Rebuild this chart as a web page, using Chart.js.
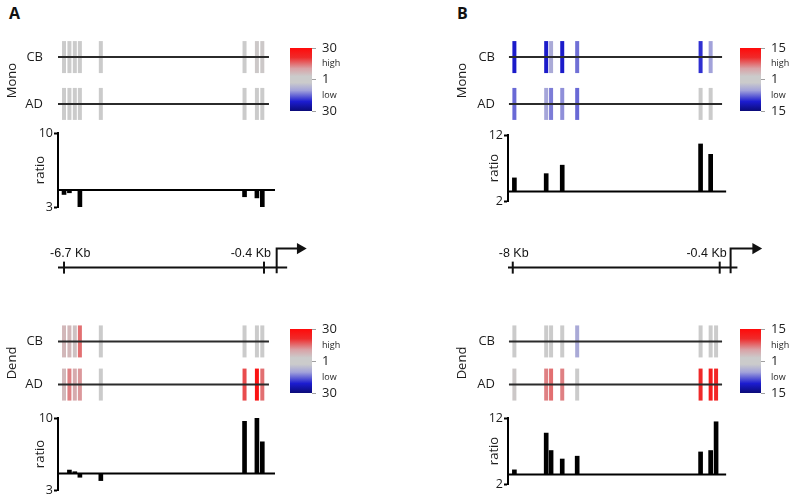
<!DOCTYPE html>
<html>
<head>
<meta charset="utf-8">
<script src="https://cdn.jsdelivr.net/npm/chart.js@4.4.0/dist/chart.umd.min.js"></script>
<style>
  body { margin: 0; background: #fff; }
  #fig { position: relative; width: 800px; height: 503px; overflow: hidden; }
  #fig canvas { position: absolute; }
  .panel { position: absolute; font: bold 16px/16px "Open Sans", sans-serif; color: #111; }
</style>
</head>
<body>
<div id="fig">
  <div class="panel" style="left:9px;top:5px">A</div>
  <div class="panel" style="left:457px;top:5px">B</div>
</div>
<script>
// exon positions, kb relative to the TSS
const exonsA = [-6.70, -6.53, -6.36, -6.20, -5.54, -1.01, -0.62, -0.45];
const exonsB = [-7.94, -6.77, -6.59, -6.18, -5.63, -1.09, -0.72, -0.52];
const geneSpanA = [-6.89, -0.24];
const geneSpanB = [-8.14, -0.30];

// heat values per exon, -1 (30x / 15x low) .. 0 (1) .. 1 (high); null = no data
const heatMonoCB_A = [0, 0, 0, 0, 0, 0, 0.12, 0.12];
const heatMonoAD_A = [0, 0, 0, 0, 0, 0, 0, 0];
const heatDendCB_A = [0.22, 0.22, 0.16, 0.5, 0, 0, 0, 0];
const heatDendAD_A = [0.22, 0.45, 0.3, 0.38, 0, 0.6, 0.92, 0.5];
const heatMonoCB_B = [-0.72, -0.72, -0.3, -0.72, -0.48, -0.65, -0.35, null];
const heatMonoAD_B = [-0.5, -0.33, -0.45, -0.4, -0.5, 0, 0, null];
const heatDendCB_B = [0, 0, 0, 0, -0.3, 0, 0, 0];
const heatDendAD_B = [0.12, 0.45, 0.5, 0.45, 0, 0.7, 0.82, 0.75];

// ratio per exon
const ratioMonoA = [-0.8, -0.5, 0, -3, 0, -1.2, -1.4, -3];
const ratioDendA = [0, 0.6, 0.3, -0.7, -1.3, 9.4, 10, 5.7];
const ratioMonoB = [2.9, 3.8, 0, 5.6, 0, 10.1, 7.9, null];
const ratioDendB = [1.0, 8.8, 5.1, 3.3, 3.9, 4.8, 5.1, 11.2];

const ratioRangeA = [-3, 10];
const ratioRangeB = [-2, 12];
const ratioTicksA = [10, -3];
const ratioTicksB = [12, -2];
const ratioTickLabelsA = ['10', '3'];
const ratioTickLabelsB = ['12', '2'];

const rowValues = [2, 1];
const rowLabels = ['CB', 'AD'];

const colorbarTickVals = [1, 0.5, 0, -0.5, -1];
const colorbarLabelsA = ['30', 'high', '1', 'low', '30'];
const colorbarLabelsB = ['15', 'high', '1', 'low', '15'];

const scaleTicksA = [-6.7, -0.4];
const scaleTicksB = [-8, -0.4];
const scaleLabelsA = ['-6.7 Kb', '-0.4 Kb'];
const scaleLabelsB = ['-8 Kb', '-0.4 Kb'];

const heatStops = [[1, '#ff0a0a'], [0.7, '#ef2a2a'], [0.35, '#d9a2a6'], [0.1, '#cbcbcb'],
  [-0.1, '#cbcbcb'], [-0.35, '#a2a2da'], [-0.7, '#1c1cd0'], [-1, '#0b0b78']];

Chart.defaults.font.family = '"Open Sans", sans-serif';
Chart.defaults.font.size = 13;
Chart.defaults.color = '#1e1e1e';
Chart.defaults.animation = false;
Chart.defaults.events = [];
Chart.defaults.responsive = false;
Chart.defaults.layout.autoPadding = false;
Chart.defaults.plugins.legend.display = false;
Chart.defaults.plugins.tooltip.enabled = false;

const fig = document.getElementById('fig');

function makeCanvas(left, top, width, height) {
  const c = document.createElement('canvas');
  c.width = width;
  c.height = height;
  c.style.left = left + 'px';
  c.style.top = top + 'px';
  c.style.width = width + 'px';
  c.style.height = height + 'px';
  fig.appendChild(c);
  return c;
}

function hexRgb(h) {
  const n = parseInt(h.slice(1), 16);
  return [n >> 16, (n >> 8) & 255, n & 255];
}

function heatColor(v) {
  for (let i = 1; i < heatStops.length; i++) {
    const [v0, c0] = heatStops[i - 1];
    const [v1, c1] = heatStops[i];
    if (v >= v1) {
      const t = (v0 - v) / (v0 - v1);
      const a = hexRgb(c0), b = hexRgb(c1);
      return 'rgb(' + a.map((x, k) => Math.round(x + (b[k] - x) * t)).join(',') + ')';
    }
  }
  return heatStops[heatStops.length - 1][1];
}

const fixWidth = w => scale => { scale.width = w; };
const setTicks = vals => scale => { scale.ticks = vals.map(value => ({value})); };

// CB / AD gene tracks with exons coloured by heat value
function drawTracks(left, cbY, gap, xr, plotW, exons, span, heats, title, labelGap) {
  const canvas = makeCanvas(left, Math.round(cbY - 0.45 * gap) - 8, 58 + plotW, Math.round(1.9 * gap) + 16);
  const datasets = [];
  // gene lines first so they are drawn over the exons
  rowValues.forEach(row => datasets.push({
    data: span.map(x => ({x, y: row})),
    showLine: true, borderColor: '#2b2b2b', borderWidth: 2, pointRadius: 0, clip: false
  }));
  heats.forEach((heat, i) => {
    const pts = [], cols = [];
    exons.forEach((x, j) => {
      if (heat[j] === null) return;
      pts.push({x, y: rowValues[i]});
      cols.push(heatColor(heat[j]));
    });
    datasets.push({
      data: pts, pointStyle: 'line', pointRotation: 90, pointRadius: 16,
      pointBorderWidth: 4, pointBorderColor: cols, clip: false
    });
  });
  new Chart(canvas, {
    type: 'scatter',
    data: {datasets},
    options: {
      layout: {padding: {top: 8, bottom: 8}},
      scales: {
        x: {type: 'linear', min: xr[0], max: xr[1], display: false},
        y: {
          min: 0.55, max: 2.45,
          afterBuildTicks: setTicks(rowValues),
          afterFit: fixWidth(58),
          ticks: {callback: (v, i) => rowLabels[i], padding: 0, autoSkip: false},
          // invisible tick marks keep the labels off the gene line
          grid: {drawOnChartArea: false, tickLength: labelGap, tickColor: 'rgba(0,0,0,0)'},
          border: {display: false},
          title: {display: true, text: title, padding: {top: 4, bottom: 0}}
        }
      }
    }
  });
}

// ratio bar chart under the tracks
function drawRatio(left, areaTop, areaBottom, xr, plotW, exons, values, baseSpan, range, tickVals, tickLabels, titlePad) {
  const canvas = makeCanvas(left, areaTop - 9, 58 + plotW, areaBottom - areaTop + 18);
  new Chart(canvas, {
    type: 'bar',
    data: {datasets: [
      {type: 'line', data: baseSpan.map(x => ({x, y: 0})), borderColor: '#000', borderWidth: 2, pointRadius: 0, clip: false},
      {data: exons.map((x, i) => ({x, y: values[i]})).filter(p => p.y), backgroundColor: '#000', barThickness: 4}
    ]},
    options: {
      layout: {padding: {top: 9, bottom: 9}},
      scales: {
        x: {type: 'linear', min: xr[0], max: xr[1], offset: false, display: false},
        y: {
          min: range[0], max: range[1],
          afterBuildTicks: setTicks(tickVals),
          afterFit: fixWidth(58),
          ticks: {callback: (v, i) => tickLabels[i], padding: 1, autoSkip: false, font: {size: 12.5}},
          grid: {drawOnChartArea: false, tickLength: 4, tickWidth: 2, tickColor: '#000'},
          border: {display: true, color: '#000', width: 2},
          title: {display: true, text: 'ratio', padding: {top: titlePad, bottom: 0}}
        }
      }
    }
  });
}

function gradientFill(ctx) {
  const y = ctx.chart.scales.y;
  if (!y || !ctx.chart.chartArea) return '#cbcbcb';
  const g = ctx.chart.ctx.createLinearGradient(0, y.getPixelForValue(1), 0, y.getPixelForValue(-1));
  heatStops.forEach(([v, c]) => g.addColorStop((1 - v) / 2, c));
  return g;
}

function drawColorbar(left, top, barW, barH, labels) {
  const canvas = makeCanvas(left, top - 14, barW + 40, barH + 28);
  new Chart(canvas, {
    type: 'bar',
    data: {labels: [''], datasets: [{
      data: [[-1, 1]], barPercentage: 1, categoryPercentage: 1, borderWidth: 0, backgroundColor: gradientFill
    }]},
    options: {
      layout: {padding: {top: 14, bottom: 14}},
      scales: {
        x: {display: false},
        y: {
          position: 'right', min: -1, max: 1,
          afterBuildTicks: setTicks(colorbarTickVals),
          afterFit: fixWidth(40),
          ticks: {callback: (v, i) => labels[i], padding: 6, autoSkip: false,
            font: c => ({size: c.index % 2 ? 9 : 13})},
          grid: {drawOnChartArea: false, tickLength: 4, tickWidth: 1,
            tickColor: c => c.index % 2 ? 'rgba(0,0,0,0)' : '#a0a0a0'},
          border: {display: false}
        }
      }
    }
  });
}

const kbLabelPlugin = {
  id: 'kbLabels',
  afterDatasetsDraw(chart, args, opts) {
    const {ctx, scales: {x, y}} = chart;
    ctx.save();
    ctx.font = '12.5px "Liberation Sans", sans-serif';
    ctx.fillStyle = '#151515';
    ctx.textBaseline = 'middle';
    opts.ticks.forEach((v, i) => {
      ctx.textAlign = i === 0 ? 'left' : 'right';
      ctx.fillText(opts.labels[i], x.getPixelForValue(v) + (i === 0 ? -14 : 7), y.getPixelForValue(0) - 14);
    });
    ctx.restore();
  }
};

function drawScaleBar(left, top, padL, xr, plotW, span, ticks, labels, arrowKb) {
  const canvas = makeCanvas(left, top, padL + plotW, 40);
  new Chart(canvas, {
    type: 'scatter',
    data: {datasets: [
      {data: span.map(x => ({x, y: 0})), showLine: true, borderColor: '#111', borderWidth: 2, pointRadius: 0, clip: false},
      {data: ticks.map(x => ({x, y: 0})), pointStyle: 'line', pointRotation: 90, pointRadius: 6,
        pointBorderWidth: 2, pointBorderColor: '#111', clip: false},
      {data: [{x: 0, y: -0.3}, {x: 0, y: 1}, {x: arrowKb, y: 1}], showLine: true, borderColor: '#111',
        borderWidth: 2, borderJoinStyle: 'miter', pointRadius: 0, clip: false},
      {data: [{x: arrowKb, y: 1}], pointStyle: 'triangle', pointRotation: 90, pointRadius: 6.5,
        pointBackgroundColor: '#111', pointBorderWidth: 0, clip: false}
    ]},
    options: {
      layout: {padding: {left: padL}},
      scales: {
        x: {type: 'linear', min: xr[0], max: xr[1], display: false},
        y: {min: -0.65, max: 1.45, display: false}
      },
      plugins: {kbLabels: {ticks, labels}}
    },
    plugins: [kbLabelPlugin]
  });
}

const xrA = [-6.89, 0.36];
const xrB = [-8.175, 0.36];

// panel A
drawTracks(0, 57, 47, xrA, 230, exonsA, geneSpanA, [heatMonoCB_A, heatMonoAD_A], 'Mono', 15);
drawRatio(0, 133, 207, xrA, 230, exonsA, ratioMonoA, [-6.89, -0.05], ratioRangeA, ratioTicksA, ratioTickLabelsA, 32);
drawColorbar(290, 48, 22, 63, colorbarLabelsA);
drawScaleBar(40, 240, 18, [-6.89, 1.05], 252, [-6.89, 0.33], scaleTicksA, scaleLabelsA, 0.74);
drawTracks(0, 341, 43, xrA, 230, exonsA, geneSpanA, [heatDendCB_A, heatDendAD_A], 'Dend', 15);
drawRatio(0, 418, 490, xrA, 230, exonsA, ratioDendA, [-6.89, -0.05], ratioRangeA, ratioTicksA, ratioTickLabelsA, 32);
drawColorbar(290, 329, 22, 64, colorbarLabelsA);

// panel B
drawTracks(450, 57, 47, xrB, 232, exonsB, geneSpanB, [heatMonoCB_B, heatMonoAD_B], 'Mono', 13);
drawRatio(450, 135, 201, xrB, 232, exonsB, ratioMonoB, [-8.175, -0.15], ratioRangeB, ratioTicksB, ratioTickLabelsB, 36);
drawColorbar(740, 48, 21, 63, colorbarLabelsB);
drawScaleBar(490, 240, 18, [-8.175, 1.3], 258, [-8.175, 0.25], scaleTicksB, scaleLabelsB, 0.92);
drawTracks(450, 341, 43, xrB, 232, exonsB, geneSpanB, [heatDendCB_B, heatDendAD_B], 'Dend', 13);
drawRatio(450, 418, 484, xrB, 232, exonsB, ratioDendB, [-8.175, -0.15], ratioRangeB, ratioTicksB, ratioTickLabelsB, 36);
drawColorbar(740, 329, 21, 64, colorbarLabelsB);
</script>
</body>
</html>
